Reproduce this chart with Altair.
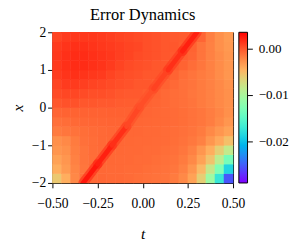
import altair as alt
import pandas as pd

# cell centres of the heat map grid
t_centers = [-0.475, -0.425, -0.375, -0.325, -0.275, -0.225, -0.175, -0.125, -0.075, -0.025,
             0.025, 0.075, 0.125, 0.175, 0.225, 0.275, 0.325, 0.375, 0.425, 0.475]
x_centers = [-1.875, -1.625, -1.375, -1.125, -0.875, -0.625, -0.375, -0.125,
             0.125, 0.375, 0.625, 0.875, 1.125, 1.375, 1.625, 1.875]

# background error values (units of 1e-3), one row per x centre (bottom to top), one value per t centre
err_milli = [
    [-5.9, -4.3, -2.3, -1.3, -0.9, -0.8, -0.9, -0.9, -1.0, -1.1, -1.2, -1.3, -1.4, -1.7, -2.35, -3.65, -6.25, -10.8, -17.3, -25.5],
    [-4.3, -3.3, -2.2, -1.5, -1.0, -0.85, -0.9, -0.9, -1.0, -1.0, -1.1, -1.2, -1.3, -1.5, -2.0, -3.0, -4.95, -8.2, -12.75, -18.8],
    [-3.65, -3.0, -2.0, -1.4, -1.1, -0.9, -0.85, -0.9, -0.9, -1.0, -1.0, -1.1, -1.2, -1.35, -1.7, -2.35, -3.65, -5.6, -8.85, -13.4],
    [-3.0, -2.7, -1.85, -1.4, -1.05, -0.95, -0.85, -0.85, -0.9, -0.9, -1.0, -1.0, -1.1, -1.2, -1.5, -2.0, -3.0, -4.3, -6.25, -8.5],
    [-2.7, -2.35, -1.7, -1.2, -1.05, -0.9, -0.85, -0.8, -0.85, -0.9, -0.9, -0.95, -1.0, -1.1, -1.3, -1.6, -2.0, -3.0, -4.0, -5.3],
    [-1.7, -1.5, -1.3, -1.1, -1.0, -0.9, -0.8, -0.75, -0.8, -0.8, -0.9, -0.9, -1.0, -1.05, -1.2, -1.4, -1.7, -2.35, -3.0, -3.65],
    [-1.2, -1.05, -0.9, -0.8, -0.75, -0.7, -0.65, -0.65, -0.65, -0.75, -0.8, -0.85, -0.9, -1.0, -1.1, -1.3, -1.5, -1.8, -2.35, -3.0],
    [-0.7, -0.6, -0.6, -0.55, -0.55, -0.55, -0.5, -0.5, -0.5, -0.55, -0.7, -0.8, -0.9, -1.0, -1.1, -1.3, -1.5, -1.8, -2.2, -2.7],
    [-0.1, 0.1, 0.1, -0.1, -0.1, -0.2, -0.2, -0.3, -0.35, -0.4, -0.6, -0.7, -0.9, -1.05, -1.2, -1.4, -1.7, -2.0, -2.35, -2.7],
    [0.4, 0.6, 0.6, 0.4, 0.25, 0.25, 0.1, -0.1, -0.2, -0.2, -0.4, -0.6, -0.9, -1.05, -1.2, -1.5, -1.7, -2.0, -2.35, -2.7],
    [0.7, 1.1, 1.1, 0.9, 0.7, 0.6, 0.4, 0.25, 0.1, -0.1, -0.1, -0.35, -0.6, -0.9, -1.2, -1.4, -1.7, -2.0, -2.35, -2.8],
    [1.1, 1.4, 1.55, 1.4, 1.2, 1.1, 0.7, 0.4, 0.25, 0.1, -0.1, -0.1, -0.35, -0.6, -1.05, -1.4, -1.7, -2.0, -2.5, -3.0],
    [1.2, 1.55, 1.7, 1.7, 1.55, 1.4, 1.1, 0.7, 0.4, 0.25, 0.1, -0.1, -0.1, -0.3, -0.6, -1.05, -1.5, -2.0, -2.5, -3.0],
    [1.2, 1.55, 1.7, 1.7, 1.55, 1.4, 1.2, 0.9, 0.7, 0.4, 0.25, 0.1, -0.1, -0.2, -0.45, -0.7, -1.4, -2.0, -2.5, -3.0],
    [1.1, 1.4, 1.55, 1.55, 1.4, 1.2, 1.1, 0.9, 0.7, 0.6, 0.25, 0.1, -0.1, -0.1, -0.35, -0.6, -1.4, -2.0, -2.7, -3.2],
    [0.7, 1.1, 1.2, 1.2, 1.2, 1.1, 0.9, 0.7, 0.6, 0.4, 0.25, 0.1, -0.1, -0.2, -0.25, -0.4, -0.7, -1.9, -2.7, -3.3],
]

# the red diagonal ridge: points along it and the error on each segment between them (units of 1e-3)
ridge_t = [-0.33, -0.25, -0.17, -0.09, -0.02, 0.06, 0.14, 0.22, 0.30]
ridge_x = [-2.0, -1.5, -1.0, -0.5, 0.0, 0.5, 1.0, 1.5, 2.0]
ridge_err_milli = [2.6, 2.2, 1.6, 0.6, 0.3, 0.8, 1.6, 2.2]

x_ticks = [-0.5, -0.25, 0.0, 0.25, 0.5]
y_ticks = [-2, -1, 0, 1, 2]
cbar_ticks = [0.0, -0.01, -0.02]
cbar_domain = [-0.029, 0.0035]
rainbow = ["#8000ff", "#6032fe", "#4062fa", "#208ef4", "#00b4ec", "#20d4e1", "#40ecd4", "#60fac5",
           "#80ffb4", "#9ffaa2", "#bfec8e", "#dfd478", "#ffb462", "#ff8e4a", "#ff6232", "#ff3219", "#ff0000"]

dt = (t_centers[1] - t_centers[0]) / 2 * 1.06
dx = (x_centers[1] - x_centers[0]) / 2 * 1.06
rows = []
for j, xc in enumerate(x_centers):
    for i, tc in enumerate(t_centers):
        rows.append({"t0": tc - dt, "t1": tc + dt, "x0": xc - dx, "x1": xc + dx,
                     "err": err_milli[j][i] / 1000.0})
df = pd.DataFrame(rows)

ridge_rows = []
for k, e in enumerate(ridge_err_milli):
    ridge_rows.append({"t0": ridge_t[k], "t1": ridge_t[k + 1], "x0": ridge_x[k], "x1": ridge_x[k + 1],
                       "err": e / 1000.0})
ridge_df = pd.DataFrame(ridge_rows)

cbar_df = pd.DataFrame([{"lo": cbar_domain[0], "hi": cbar_domain[1]}])

FONT = "Liberation Serif"
cscale = alt.Scale(domain=cbar_domain, range=rainbow, interpolate="rgb", nice=False, zero=False)

x_enc = alt.X("t0:Q", scale=alt.Scale(domain=[-0.5, 0.5], nice=False, zero=False),
              axis=alt.Axis(values=x_ticks, format=".2f", title="t", titleFontStyle="italic",
                            titleFont=FONT, titleFontSize=16, titleFontWeight="normal",
                            titlePadding=16, labelPadding=9, labelOverlap=False, labelFlush=False))
y_enc = alt.Y("x0:Q", scale=alt.Scale(domain=[-2, 2], nice=False, zero=False),
              axis=alt.Axis(values=y_ticks, format="d", title="x", titleFontStyle="italic",
                            titleFont=FONT, titleFontSize=16, titleFontWeight="normal",
                            titlePadding=6, labelOverlap=False, labelFlush=False))
color_enc = alt.Color("err:Q", scale=cscale, legend=None)

heat = alt.Chart(df).mark_rect().encode(x=x_enc, x2="t1", y=y_enc, y2="x1", color=color_enc)
glow = alt.Chart(ridge_df).mark_rule(strokeWidth=10, opacity=0.5, strokeCap="round", clip=True).encode(
    x=x_enc, x2="t1", y=y_enc, y2="x1", color=color_enc)
core = alt.Chart(ridge_df).mark_rule(strokeWidth=5, strokeCap="round", clip=True).encode(
    x=x_enc, x2="t1", y=y_enc, y2="x1", color=color_enc)
field_layers = alt.layer(heat, glow, core)

# colour bar to the right of the plot, with its own value axis
n_stops = len(rainbow)
gradient = alt.LinearGradient(
    gradient="linear", x1=0, x2=0, y1=1, y2=0,
    stops=[alt.GradientStop(color=c, offset=k / (n_stops - 1)) for k, c in enumerate(rainbow)])
cbar = alt.Chart(cbar_df).mark_rect(fill=gradient, stroke="black", strokeWidth=1, clip=False).encode(
    x=alt.value(193), x2=alt.value(202),
    y=alt.Y("lo:Q", scale=alt.Scale(domain=cbar_domain, nice=False, zero=False),
            axis=alt.Axis(orient="right", offset=15, values=cbar_ticks, format=".2f", title=None,
                          labelOverlap=False, labelFlush=False, labelPadding=6, labelFontSize=13.5)),
    y2="hi",
)

chart = alt.layer(field_layers, cbar).resolve_scale(y="independent").properties(
    width=187, height=156,
    title=alt.TitleParams("Error Dynamics", font=FONT, fontSize=17, fontWeight="normal",
                          color="black", offset=1, dy=-1, anchor="start", frame="group", dx=39),
    autosize=alt.AutoSizeParams(type="none"),
    padding={"left": 46, "top": 21, "right": 60, "bottom": 58},
).configure_view(
    stroke="black", strokeWidth=1
).configure_axis(
    grid=False, domain=False, ticks=True, tickColor="black", tickSize=5, tickWidth=1,
    labelFont=FONT, labelFontSize=14, labelColor="black", labelPadding=2, titleColor="black"
)

chart.save("out.html", embed_options={"renderer": "svg", "actions": False})
